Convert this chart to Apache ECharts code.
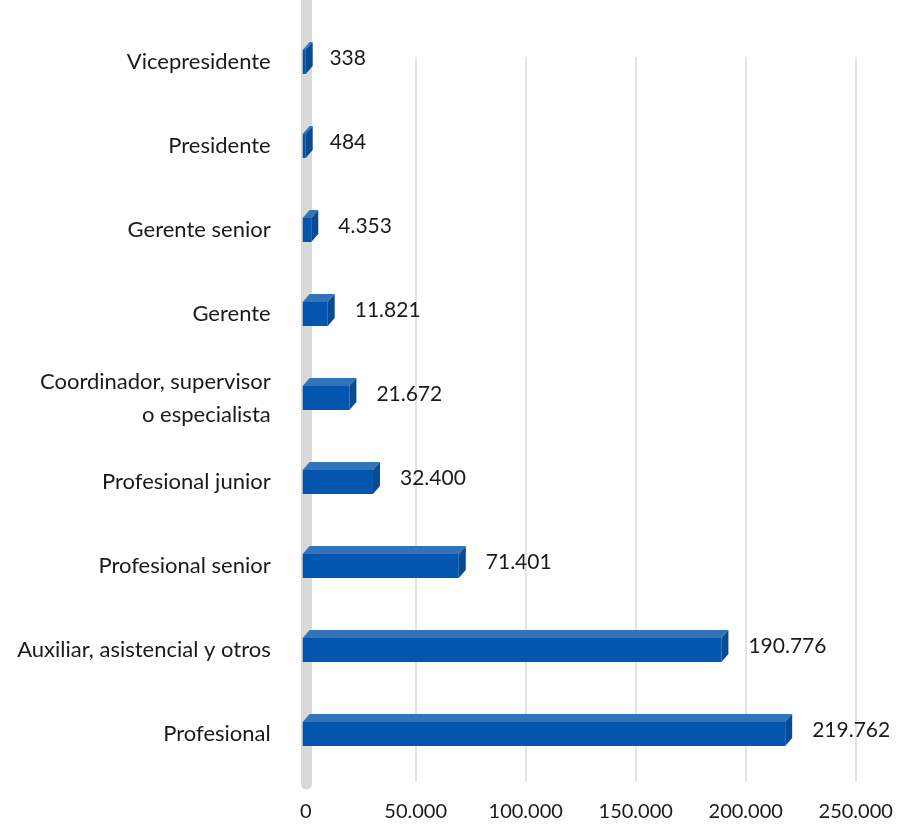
<!DOCTYPE html>
<html><head><meta charset="utf-8">
<script src="https://cdn.jsdelivr.net/npm/echarts@6/dist/echarts.min.js"></script>
<style>html,body{margin:0;padding:0;background:#fff}#c{width:903px;height:824px}</style>
</head><body><div id="c"></div>
<script>
const categories = ["Vicepresidente", "Presidente", "Gerente senior", "Gerente",
  "Coordinador, supervisor\no especialista", "Profesional junior", "Profesional senior",
  "Auxiliar, asistencial y otros", "Profesional"];
const values = [338, 484, 4353, 11821, 21672, 32400, 71401, 190776, 219762];
const axisMin = 0, axisMax = 250000, axisStep = 50000;

function fmt(v) { return String(v).replace(/\B(?=(\d{3})+(?!\d))/g, '.'); }

const FONT = 'Lato, "Open Sans", sans-serif';
const TXT = '#1a1a1a';

function renderItem(params, api) {
  const v = api.value(0), ci = api.value(1);
  const p0 = api.coord([0, ci]), p1 = api.coord([v, ci]);
  const band = api.size([0, 1])[1];
  const c = p0[1];
  const h = band * 0.143, dx = 7, dy = 8;
  const fx0 = p0[0] - 3, fx1 = Math.max(fx0 + 3, p1[0] - 4);
  return {type: 'group', children: [
    {type: 'polygon', shape: {points: [[fx0, c - h], [fx0 + dx, c - h - dy], [fx1 + dx, c - h - dy], [fx1, c - h]]}, style: {fill: '#2f74bd'}},
    {type: 'rect', shape: {x: fx0, y: c - h, width: fx1 - fx0, height: 2 * h}, style: {fill: '#0455ad'}},
    {type: 'polygon', shape: {points: [[fx1, c - h], [fx1 + dx, c - h - dy], [fx1 + dx, c + h - dy], [fx1, c + h]]}, style: {fill: '#0a4a90'}},
    {type: 'text', style: {text: fmt(v), x: p1[0] + 23, y: c - 4, verticalAlign: 'middle', align: 'left', font: '21px ' + FONT, fill: TXT}}
  ]};
}

const chart = echarts.init(document.getElementById('c'));
chart.setOption({
  backgroundColor: '#ffffff',
  animation: false,
  grid: [
    {left: 305.7, right: 47.3, top: 20, bottom: 48},
    {left: 305.7, right: 47.3, top: 57, bottom: 42},
    {left: 306, right: 47, top: 0, bottom: 40}
  ],
  xAxis: [
    {gridIndex: 0, type: 'value', min: axisMin, max: axisMax, interval: axisStep,
     axisLine: {show: false}, axisTick: {show: false}, splitLine: {show: false},
     axisLabel: {formatter: fmt, fontFamily: FONT, fontSize: 20, color: TXT, margin: 26}},
    {gridIndex: 1, type: 'value', min: axisMin, max: axisMax, interval: axisStep,
     axisLine: {show: false}, axisTick: {show: false}, axisLabel: {show: false},
     splitLine: {show: true, lineStyle: {color: '#e4e4e4', width: 2}}},
    {gridIndex: 2, type: 'value', min: axisMin, max: axisMax, show: false}
  ],
  yAxis: [
    {gridIndex: 0, type: 'category', data: categories, inverse: true,
     axisLine: {show: false}, axisTick: {show: false}, splitLine: {show: false},
     axisLabel: {fontFamily: FONT, fontSize: 22, color: TXT, margin: 35, lineHeight: 33, align: 'right'}},
    {gridIndex: 1, type: 'value', show: false},
    {gridIndex: 2, type: 'value', min: 0, max: 1,
     axisLine: {show: true, lineStyle: {color: '#d9d9d9', width: 11}},
     axisTick: {show: false}, axisLabel: {show: false}, splitLine: {show: false}}
  ],
  series: [{
    type: 'custom', xAxisIndex: 0, yAxisIndex: 0, z: 5,
    renderItem: renderItem,
    encode: {x: 0, y: 1},
    data: values.map((v, i) => [v, categories[i]])
  }]
});
</script></body></html>
